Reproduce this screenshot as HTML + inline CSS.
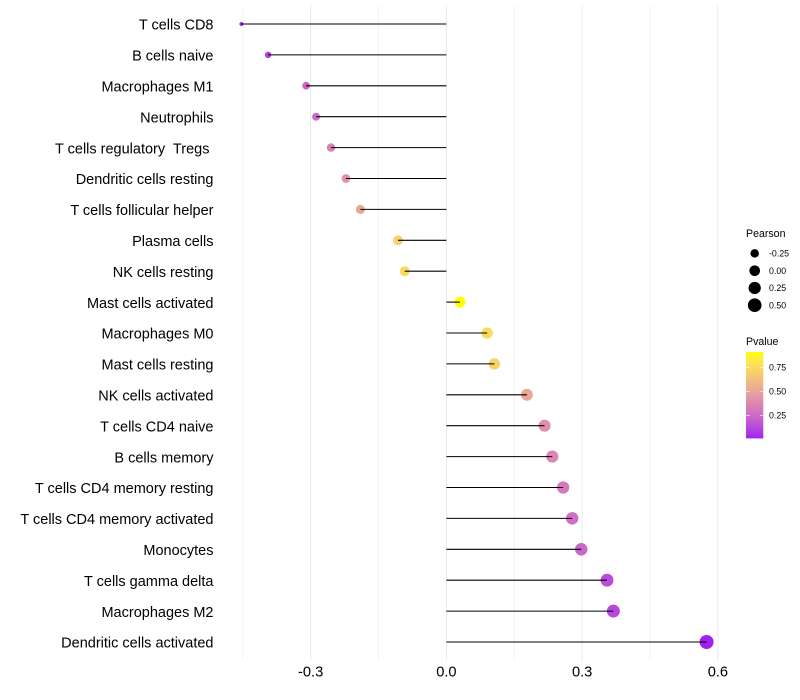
<!DOCTYPE html>
<html>
<head>
<meta charset="utf-8">
<style>
html,body{margin:0;padding:0;background:#fff;}
svg{display:block;font-family:"Liberation Sans",Arial,sans-serif;}
</style>
</head>
<body>
<svg id="chart" width="800" height="700" viewBox="0 0 800 700" xmlns="http://www.w3.org/2000/svg">
  <rect width="800" height="700" fill="#fff"/>
  <g id="grid"></g>
  <g id="marks"></g>
  <g id="labels"></g>
  <g id="ticks"></g>
  <g id="legend-size"></g>
  <g id="legend-color"></g>
</svg>
<script>
const categories = ["T cells CD8","B cells naive","Macrophages M1","Neutrophils","T cells regulatory  Tregs ","Dendritic cells resting","T cells follicular helper","Plasma cells","NK cells resting","Mast cells activated","Macrophages M0","Mast cells resting","NK cells activated","T cells CD4 naive","B cells memory","T cells CD4 memory resting","T cells CD4 memory activated","Monocytes","T cells gamma delta","Macrophages M2","Dendritic cells activated"];
const pearson = [-0.453,-0.394,-0.310,-0.288,-0.255,-0.222,-0.190,-0.107,-0.092,0.030,0.090,0.106,0.178,0.217,0.234,0.258,0.278,0.298,0.355,0.369,0.575];
const pvalue = [0.03,0.09,0.23,0.26,0.34,0.42,0.50,0.71,0.74,0.91,0.75,0.71,0.51,0.41,0.37,0.31,0.27,0.24,0.14,0.12,0.01];
const xTicks = [-0.3,0,0.3,0.6];
const xMinor = [-0.45,-0.15,0.15,0.45];
const sizeLegend = [-0.25,0,0.25,0.5];
const colorLegend = [0.25,0.5,0.75];

const NS = "http://www.w3.org/2000/svg";
function make(parent, tag, attrs, text){
  const el = document.createElementNS(NS, tag);
  for (const k in attrs) el.setAttribute(k, attrs[k]);
  if (text !== undefined) el.textContent = text;
  parent.appendChild(el);
  return el;
}
const xScale = v => 446.4 + v * 452.5;
const yScale = i => 24 + i * 30.9;
const pMin = Math.min(...pearson), pMax = Math.max(...pearson);
const rScale = v => 2 + 5 * Math.sqrt((v - pMin) / (pMax - pMin));
const cMin = Math.min(...pvalue), cMax = Math.max(...pvalue);

function toLab(c){
  const l = c.map(u => { u/=255; return u>0.04045 ? Math.pow((u+0.055)/1.055,2.4) : u/12.92; });
  const X=(0.4124*l[0]+0.3576*l[1]+0.1805*l[2])/0.95047, Y=0.2126*l[0]+0.7152*l[1]+0.0722*l[2], Z=(0.0193*l[0]+0.1192*l[1]+0.9505*l[2])/1.08883;
  const f = t => t>0.008856 ? Math.cbrt(t) : 7.787*t+16/116;
  return [116*f(Y)-16, 500*(f(X)-f(Y)), 200*(f(Y)-f(Z))];
}
function fromLab(L){
  const fy=(L[0]+16)/116, fx=fy+L[1]/500, fz=fy-L[2]/200;
  const g = t => t*t*t>0.008856 ? t*t*t : (t-16/116)/7.787;
  const X=g(fx)*0.95047, Y=g(fy), Z=g(fz)*1.08883;
  const r=[3.2406*X-1.5372*Y-0.4986*Z, -0.9689*X+1.8758*Y+0.0415*Z, 0.0557*X-0.2040*Y+1.0570*Z];
  const out = r.map(u => { u = u>0.0031308 ? 1.055*Math.pow(u,1/2.4)-0.055 : 12.92*u; return Math.round(Math.max(0,Math.min(1,u))*255); });
  return "rgb("+out.join(",")+")";
}
const labLow = toLab([160,32,240]), labHigh = toLab([255,255,0]);
const colorAt = t => fromLab(labLow.map((v,i) => v + (labHigh[i]-v)*t));
const cScale = p => colorAt((p - cMin) / (cMax - cMin));

const grid = document.getElementById("grid");
xMinor.forEach(v => {
  const el = make(grid, "line", {x1:xScale(v),x2:xScale(v),y1:5,y2:660,stroke:"#eeeeee","stroke-width":0.7});
  
  
});
xTicks.forEach(v => {
  const el = make(grid, "line", {x1:xScale(v),x2:xScale(v),y1:5,y2:660,stroke:"#ebebeb","stroke-width":1.07});
  
  
});

const marks = document.getElementById("marks");
const labels = document.getElementById("labels");
categories.forEach((name, i) => {
  const y = yScale(i), x = xScale(pearson[i]);
  const dot = make(marks, "circle", {cx:x,cy:y,r:rScale(pearson[i]),fill:cScale(pvalue[i])});
  
  
  const stem = make(marks, "line", {x1:xScale(0),x2:x,y1:y,y2:y,stroke:"#000","stroke-width":1.07});
  
  
  const lab = make(labels, "text", {x:213.5,y:y+5.7,"text-anchor":"end","font-size":14.5,fill:"#000","xml:space":"preserve"}, name);
  lab.style.whiteSpace = "pre";
  
  
});

const ticks = document.getElementById("ticks");
xTicks.forEach(v => {
  const t = make(ticks, "text", {x:xScale(v),y:676.5,"text-anchor":"middle","font-size":14.67,fill:"#000"}, v.toFixed(1));
  
  
});

const ls = document.getElementById("legend-size");
const lsTitle = make(ls, "text", {x:746,y:237,"font-size":10.6,fill:"#000"}, "Pearson");


sizeLegend.forEach((v, i) => {
  const y = 253.4 + i * 17.28;
  const c = make(ls, "circle", {cx:754.7,cy:y,r:rScale(v),fill:"#000"});
  
  
  const t = make(ls, "text", {x:769,y:y+3.1,"font-size":8.8,fill:"#000"}, v.toFixed(2));
  
  
});

const lc = document.getElementById("legend-color");
const lcTitle = make(lc, "text", {x:746,y:345,"font-size":10.6,fill:"#000"}, "Pvalue");


const defs = make(lc, "defs", {});
const grad = make(defs, "linearGradient", {id:"pgrad",x1:0,y1:1,x2:0,y2:0});
for (let s = 0; s <= 20; s++) {
  make(grad, "stop", {offset:s/20,"stop-color":colorAt(s/20)});
}
const barTop = 352, barBottom = 438.4, barX = 746, barW = 17.3;
const bar = make(lc, "rect", {x:barX,y:barTop,width:barW,height:barBottom-barTop,fill:"url(#pgrad)"});


const barY = p => barBottom - (p - cMin) / (cMax - cMin) * (barBottom - barTop);
colorLegend.forEach(p => {
  const y = barY(p);
  const a = make(lc, "line", {x1:barX,x2:barX+3.5,y1:y,y2:y,stroke:"#fff","stroke-width":0.8,"stroke-opacity":0.75});
  
  
  const b = make(lc, "line", {x1:barX+barW-3.5,x2:barX+barW,y1:y,y2:y,stroke:"#fff","stroke-width":0.8,"stroke-opacity":0.75});
  
  
  const t = make(lc, "text", {x:769,y:y+3.1,"font-size":8.8,fill:"#000"}, p.toFixed(2));
  
  
});
</script>
</body>
</html>
